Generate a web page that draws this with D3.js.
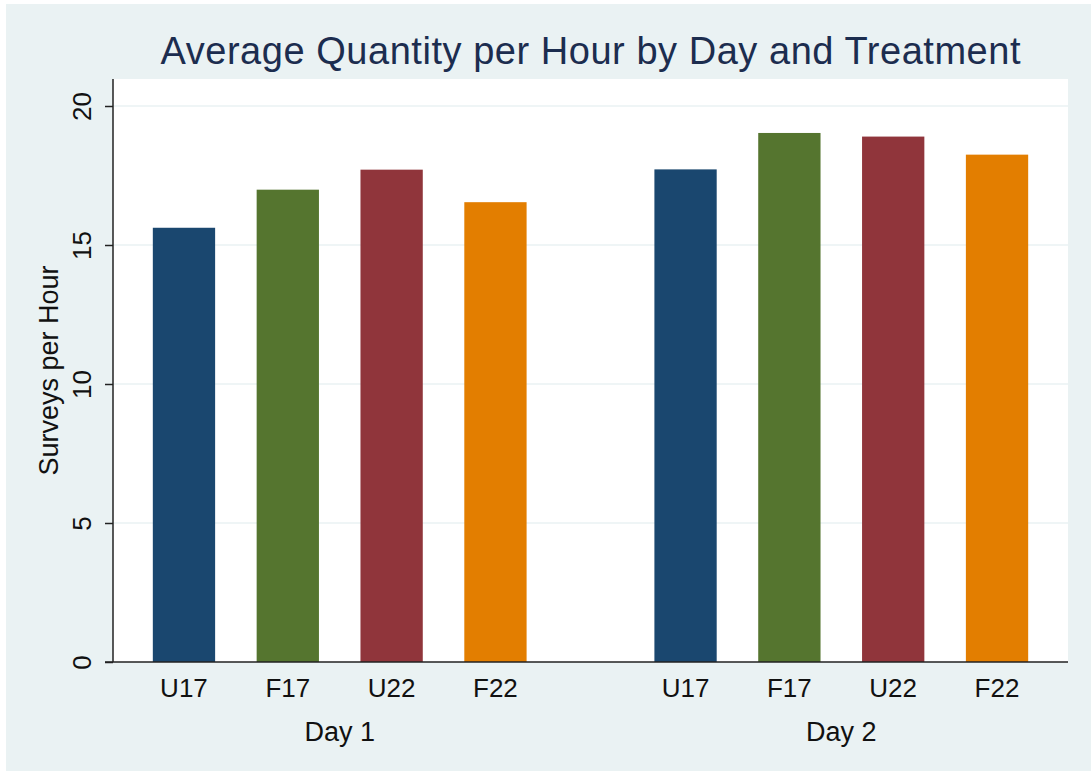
<!doctype html>
<html>
<head>
<meta charset="utf-8">
<script src="https://d3js.org/d3.v7.min.js"></script>
<style>
  body { margin: 0; background: #fff; }
  text { font-family: 'Liberation Sans', Arial, sans-serif; }
</style>
</head>
<body>
<svg id="chart" width="1091" height="771"></svg>
<script>
// data
const days = ["Day 1", "Day 2"];
const treatments = ["U17", "F17", "U22", "F22"];
const day1Values = [15.62, 16.99, 17.71, 16.54];
const day2Values = [17.72, 19.03, 18.90, 18.25];
const yTicks = [0, 5, 10, 15, 20];
const colors = ["#1a476f", "#55752f", "#90353b", "#e37e00"];

const rows = [];
days.forEach((d, i) => {
  const vals = i == 0 ? day1Values : day2Values;
  treatments.forEach((t, j) => rows.push({day: d, treat: t, value: vals[j]}));
});

const svg = d3.select("#chart");
const plot = {left: 113, right: 1068, top: 79, bottom: 662};

// outer background
svg.append("rect").attr("x", 6).attr("y", 4)
  .attr("width", 1091 - 6).attr("height", 771 - 4)
  .attr("fill", "#eaf2f3");

svg.append("rect").attr("x", plot.left).attr("y", plot.top)
  .attr("width", plot.right - plot.left).attr("height", plot.bottom - plot.top)
  .attr("fill", "#fff");

const y = d3.scaleLinear().domain([0, 20]).range([plot.bottom, 106]);

const x0 = d3.scaleBand().domain(days).range([plot.left, plot.right])
  .paddingInner(0.172).paddingOuter(0.038);
const x1 = d3.scaleBand().domain(treatments).range([0, x0.bandwidth()])
  .paddingInner(0.4).paddingOuter(0.2);

// grid lines
svg.append("g").selectAll("line")
  .data(yTicks.filter(d => d > 0))
  .join("line")
  .attr("x1", plot.left).attr("x2", plot.right)
  .attr("y1", d => y(d)).attr("y2", d => y(d))
  .attr("stroke", "#eaf2f3").attr("stroke-width", 1.5);

// bars
svg.append("g").selectAll("rect")
  .data(rows)
  .join("rect")
  .attr("x", d => x0(d.day) + x1(d.treat))
  .attr("width", x1.bandwidth())
  .attr("y", d => y(d.value))
  .attr("height", d => y(0) - y(d.value))
  .attr("fill", d => colors[treatments.indexOf(d.treat)]);

// y axis
const yAxis = svg.append("g")
  .attr("transform", `translate(${plot.left},0)`)
  .call(d3.axisLeft(y).tickValues(yTicks).tickSize(8).tickFormat(d3.format("d")));
yAxis.select(".domain").remove();
yAxis.selectAll(".tick line").attr("stroke", "#222").attr("stroke-width", 1.5);
yAxis.selectAll(".tick text")
  .attr("x", 0).attr("y", 0)
  .attr("dy", 0)
  .attr("transform", "translate(-22,0) rotate(-90)")
  .attr("text-anchor", "middle")
  .attr("font-size", 26)
  .attr("font-family", "'Liberation Sans', Arial, sans-serif")
  .attr("fill", "#111");

svg.append("line")
  .attr("x1", plot.left).attr("x2", plot.left)
  .attr("y1", plot.top).attr("y2", plot.bottom)
  .attr("stroke", "#222").attr("stroke-width", 1.5);
svg.append("line")
  .attr("x1", plot.left - 8).attr("x2", plot.right)
  .attr("y1", plot.bottom).attr("y2", plot.bottom)
  .attr("stroke", "#222").attr("stroke-width", 1.5);

// category labels
svg.append("g").selectAll("text")
  .data(rows)
  .join("text")
  .attr("x", d => x0(d.day) + x1(d.treat) + x1.bandwidth() / 2)
  .attr("y", 697)
  .attr("text-anchor", "middle")
  .attr("font-size", 26)
  .attr("fill", "#111")
  .text(d => d.treat);

svg.append("g").selectAll("text")
  .data(days)
  .join("text")
  .attr("x", d => x0(d) + x0.bandwidth() / 2)
  .attr("y", 741)
  .attr("text-anchor", "middle")
  .attr("font-size", 27)
  .attr("fill", "#111")
  .text(d => d);

// y title
svg.append("text")
  .attr("transform", `translate(58,${(plot.top + plot.bottom) / 2}) rotate(-90)`)
  .attr("text-anchor", "middle")
  .attr("font-size", 27)
  .attr("fill", "#111")
  .text("Surveys per Hour");

// title
svg.append("text")
  .attr("x", (plot.left + plot.right) / 2)
  .attr("y", 64)
  .attr("text-anchor", "middle")
  .attr("font-size", 38)
  .attr("fill", "#1c2d4f")
  .attr("textLength", 860)
  .attr("lengthAdjust", "spacing")
  .text("Average Quantity per Hour by Day and Treatment");
</script>
</body>
</html>
